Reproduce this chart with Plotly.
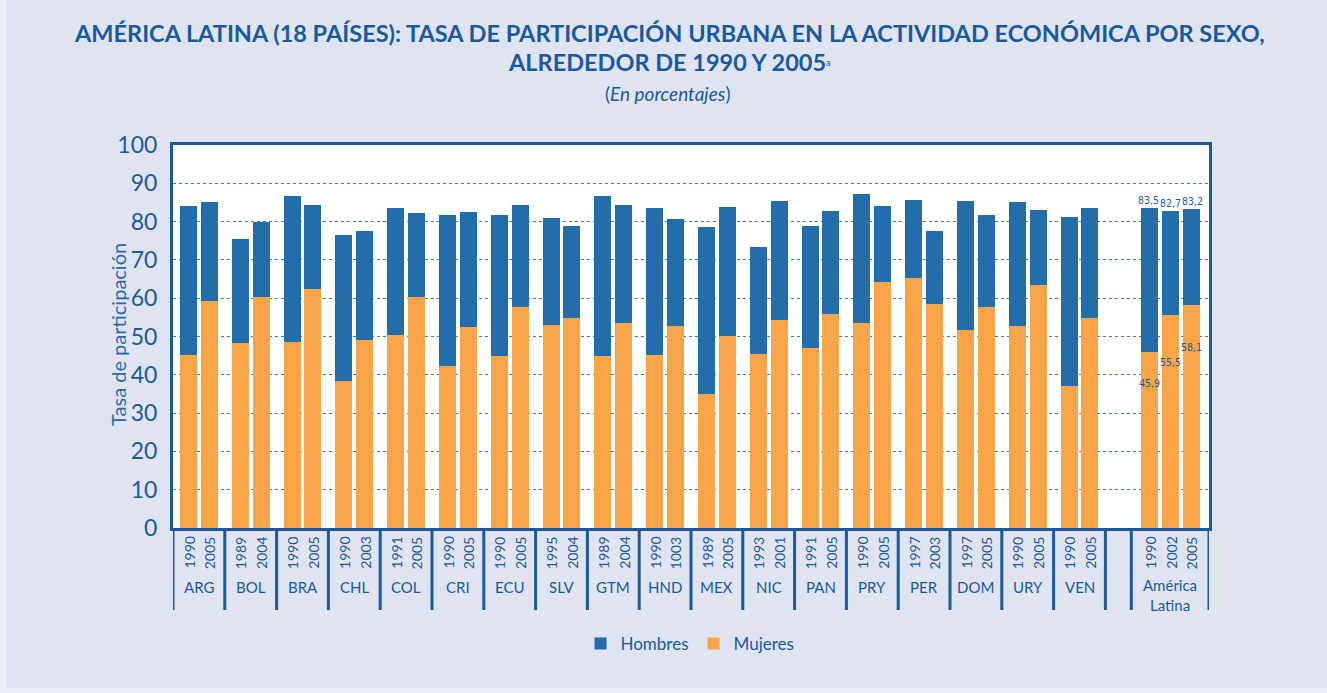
import plotly.graph_objects as go

countries = ["ARG", "BOL", "BRA", "CHL", "COL", "CRI", "ECU", "SLV", "GTM",
             "HND", "MEX", "NIC", "PAN", "PRY", "PER", "DOM", "URY", "VEN"]
years = [["1990", "2005"], ["1989", "2004"], ["1990", "2005"], ["1990", "2003"],
         ["1991", "2005"], ["1990", "2005"], ["1990", "2005"], ["1995", "2004"],
         ["1989", "2004"], ["1990", "1003"], ["1989", "2005"], ["1993", "2001"],
         ["1991", "2005"], ["1990", "2005"], ["1997", "2003"], ["1997", "2005"],
         ["1990", "2005"], ["1990", "2005"]]
hombres = [[84.1, 85.1], [75.5, 80.0], [86.7, 84.3], [76.5, 77.6], [83.6, 82.3],
           [81.7, 82.5], [81.7, 84.3], [81.0, 78.9], [86.7, 84.3], [83.6, 80.7],
           [78.6, 83.9], [73.4, 85.4], [78.9, 82.8], [87.2, 84.1], [85.6, 77.6],
           [85.4, 81.7], [85.1, 83.1], [81.2, 83.6]]
mujeres = [[45.2, 59.3], [48.3, 60.3], [48.6, 62.4], [38.4, 49.2], [50.5, 60.3],
           [42.3, 52.5], [45.0, 57.8], [53.1, 54.9], [45.0, 53.6], [45.2, 52.8],
           [35.0, 50.2], [45.5, 54.4], [47.0, 55.9], [53.6, 64.3], [65.3, 58.5],
           [51.7, 57.8], [52.8, 63.5], [37.1, 54.9]]
al_label = "América<br>Latina"
al_years = ["1990", "2002", "2005"]
al_hombres = [83.5, 82.7, 83.2]
al_mujeres = [45.9, 55.5, 58.1]
al_hombres_txt = ["83,5", "82,7", "83,2"]
al_mujeres_txt = ["45,9", "55,5", "58,1"]

BLUE = "#236eaa"
ORANGE = "#f8a54a"
DARK = "#1b5a9a"
FONT = "Lato"
NARROW = "DejaVu Sans Condensed, Lato"

# layout of the category axis (numeric units)
GROUP_W = 2.5
GAP_W = 1.25
AL_START = GROUP_W * len(countries) + GAP_W
AL_W = 3.75
XMAX = AL_START + AL_W

xs, hv, mv, ylabels = [], [], [], []
for i, c in enumerate(countries):
    for j in range(2):
        xs.append(GROUP_W * i + 0.75 + j)
        hv.append(hombres[i][j])
        mv.append(mujeres[i][j])
        ylabels.append(years[i][j])
al_x = [AL_START + 0.9 + k for k in range(len(al_years))]
xs_all = xs + al_x
hv_all = hv + al_hombres
mv_all = mv + al_mujeres
ylabels_all = ylabels + al_years

fig = go.Figure()
fig.add_trace(go.Bar(x=xs_all, y=hv_all, name="Hombres", marker_color=BLUE,
                     width=0.82, marker_line_width=0))
fig.add_trace(go.Bar(x=xs_all, y=mv_all, name="Mujeres", marker_color=ORANGE,
                     width=0.82, marker_line_width=0))

PW, PH, L, T = 1036, 383, 173, 145
def px(xp):
    return (xp - L) / PW
def py(yp):
    return (T + PH - yp) / PH

annotations = []
# titles
annotations.append(dict(text="<b>AMÉRICA LATINA (18 PAÍSES): TASA DE PARTICIPACIÓN URBANA EN LA ACTIVIDAD ECONÓMICA POR SEXO,</b>",
                        xref="paper", yref="paper", x=px(669), y=py(33), xanchor="center", yanchor="middle",
                        showarrow=False, font=dict(family=FONT, size=23.5, color=DARK)))
annotations.append(dict(text="<b>ALREDEDOR DE 1990 Y 2005</b><span style='font-size:13px'><sup>a</sup></span>",
                        xref="paper", yref="paper", x=px(669), y=py(62), xanchor="center", yanchor="middle",
                        showarrow=False, font=dict(family=FONT, size=23.5, color=DARK)))
annotations.append(dict(text="(<i>En porcentajes</i>)",
                        xref="paper", yref="paper", x=px(667), y=py(93), xanchor="center", yanchor="middle",
                        showarrow=False, font=dict(family=FONT, size=19, color=DARK)))

# year labels
for x, lab in zip(xs_all, ylabels_all):
    annotations.append(dict(text=lab, x=x, xref="x", yref="paper", y=py(553),
                            textangle=-90, showarrow=False, xanchor="center", yanchor="middle",
                            font=dict(family=FONT, size=14, color=DARK)))
# country labels
for i, c in enumerate(countries):
    annotations.append(dict(text=c, x=GROUP_W * i + GROUP_W / 2, xref="x", yref="paper",
                            y=py(587), showarrow=False, xanchor="center", yanchor="middle",
                            font=dict(family=FONT, size=15, color=DARK)))
annotations.append(dict(text=al_label, x=AL_START + AL_W / 2, xref="x", yref="paper",
                        y=py(595), showarrow=False, xanchor="center", yanchor="middle",
                        font=dict(family=FONT, size=15, color=DARK)))
# AL value labels
h_xshift = [-1.5, 0, 1.5]
for x, v, t, s in zip(al_x, al_hombres, al_hombres_txt, h_xshift):
    annotations.append(dict(text=t, x=x, y=v, xref="x", yref="y", yanchor="bottom", showarrow=False,
                            xshift=s, font=dict(family=NARROW, size=10.5, color=DARK)))
m_shift = [-31, -47, -42]
for x, v, t, s in zip(al_x, al_mujeres, al_mujeres_txt, m_shift):
    annotations.append(dict(text=t, x=x, y=v, xref="x", yref="y", yanchor="middle", showarrow=False,
                            yshift=s, font=dict(family=NARROW, size=10.5, color=DARK)))
# y axis title
annotations.append(dict(text="Tasa de participación", xref="paper", yref="paper",
                        x=px(118), y=py(335), textangle=-90, showarrow=False,
                        xanchor="center", yanchor="middle",
                        font=dict(family=FONT, size=20, color="#2a6aa6")))

shapes = []
bounds = [GROUP_W * i for i in range(len(countries) + 1)] + [AL_START, XMAX]
for b in bounds:
    shapes.append(dict(type="line", xref="x", yref="paper", x0=b, x1=b, y0=0, y1=py(610),
                       line=dict(color=DARK, width=3)))
# lighter page edge strips
EDGE = "#eceef5"
shapes.append(dict(type="rect", xref="paper", yref="paper", x0=px(0), x1=px(6), y0=py(693), y1=py(0),
                   line_width=0, fillcolor=EDGE, layer="below"))
shapes.append(dict(type="rect", xref="paper", yref="paper", x0=px(0), x1=px(1327), y0=py(693), y1=py(688),
                   line_width=0, fillcolor=EDGE, layer="below"))

fig.update_layout(
    width=1327, height=693,
    margin=dict(l=173, r=118, t=145, b=165),
    paper_bgcolor="#dfe4f0",
    plot_bgcolor="white",
    barmode="overlay",
    bargap=0,
    showlegend=True,
    legend=dict(orientation="h", x=px(690), y=py(644), xanchor="center", yanchor="middle",
                font=dict(family=FONT, size=17, color=DARK), bgcolor="rgba(0,0,0,0)",
                itemwidth=30, traceorder="normal"),
    xaxis=dict(range=[0, XMAX], showticklabels=False, showgrid=False, zeroline=False,
               showline=True, mirror=True, linecolor=DARK, linewidth=3, ticks=""),
    yaxis=dict(range=[0, 100], tickvals=list(range(0, 101, 10)), showgrid=True,
               gridcolor="#3f7db5", griddash="dot", gridwidth=1, zeroline=False,
               showline=True, mirror=True, linecolor=DARK, linewidth=3, ticks="",
               ticklabelstandoff=8,
               tickfont=dict(family=FONT, size=23, color=DARK)),
    annotations=annotations,
    shapes=shapes,
    font=dict(family=FONT, color=DARK),
)

fig.write_html("out.html")
